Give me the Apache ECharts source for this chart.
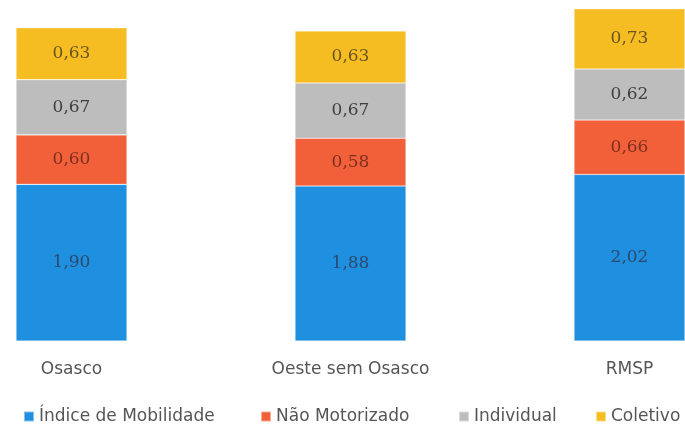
<!DOCTYPE html>
<html>
<head>
<meta charset="utf-8">
<script src="https://cdn.jsdelivr.net/npm/echarts@6/dist/echarts.min.js"></script>
<style>
html,body{margin:0;padding:0;background:#fff;overflow:hidden;width:685px;height:428px;position:relative;}
#chart{width:837px;height:428px;position:absolute;left:-68px;top:0;}
</style>
</head>
<body>
<div id="chart"></div>
<script>
var categories = ['Osasco', 'Oeste sem Osasco', 'RMSP'];
var seriesNames = ['Índice de Mobilidade', 'Não Motorizado', 'Individual', 'Coletivo'];
var indiceMobilidade = [1.90, 1.88, 2.02];
var naoMotorizado = [0.60, 0.58, 0.66];
var individual = [0.67, 0.67, 0.62];
var coletivo = [0.63, 0.63, 0.73];

var colors = ['#1f8fe0', '#f2603a', '#bdbdbd', '#f6bd23'];
var labelColors = ['#2c4a6e', '#7e3020', '#404040', '#6a5522'];
var values = [indiceMobilidade, naoMotorizado, individual, coletivo];

var offsetX = 68; // chart container is shifted left by this many px
var chart = echarts.init(document.getElementById('chart'));

var series = seriesNames.map(function (name, i) {
  return {
    name: name,
    type: 'bar',
    stack: 'total',
    barWidth: 111,
    data: values[i],
    itemStyle: { color: colors[i], borderColor: 'rgba(255,255,255,0.45)', borderWidth: 0.6 },
    label: {
      show: true,
      position: 'inside',
      color: labelColors[i],
      fontFamily: 'DejaVu Serif',
      fontSize: 17,
      formatter: function (p) { return p.value.toFixed(2).replace('.', ','); }
    }
  };
});

var legendLefts = [23, 260, 458, 595];
var legends = seriesNames.map(function (name, i) {
  return {
    data: [name],
    left: legendLefts[i] + offsetX,
    top: 408,
    padding: 0,
    itemWidth: 10,
    itemHeight: 10,
    icon: 'rect',
    textStyle: { fontFamily: 'DejaVu Sans', fontSize: 17, color: '#555' }
  };
});

chart.setOption({
  animation: false,
  backgroundColor: '#fff',
  grid: { left: 0, right: 0, top: 3, bottom: 87, containLabel: false },
  legend: legends,
  xAxis: {
    type: 'category',
    data: categories,
    axisLine: { show: false },
    axisTick: { show: false },
    axisLabel: { margin: 20, fontFamily: 'DejaVu Sans', fontSize: 17, color: '#555' }
  },
  yAxis: {
    type: 'value',
    min: 0,
    max: 4.1,
    show: false,
    splitLine: { show: false }
  },
  series: series
});
</script>
</body>
</html>
